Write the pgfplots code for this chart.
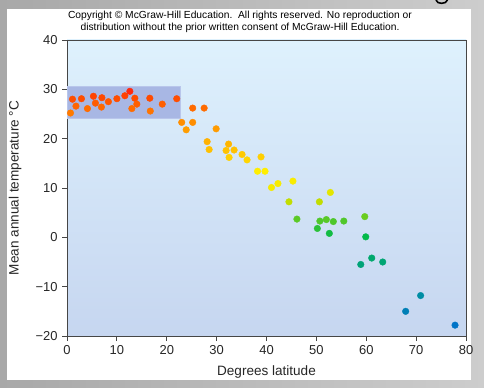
\documentclass[border=0pt]{standalone}
\usepackage{pgfplots}
\pgfplotsset{compat=1.18}
\usepackage{fontspec}
\setmainfont{Liberation Sans}
\definecolor{axcol}{RGB}{70,70,70}
\definecolor{boxcol}{RGB}{168,183,228}
\pgfplotsset{colormap={temp}{
 rgb255(0cm)=(0,115,200);
 rgb255(12cm)=(0,140,165);
 rgb255(26cm)=(0,165,115);
 rgb255(36cm)=(0,185,75);
 rgb255(43cm)=(85,200,40);
 rgb255(50cm)=(190,220,0);
 rgb255(56cm)=(245,235,0);
 rgb255(63cm)=(255,238,0);
 rgb255(68cm)=(255,210,0);
 rgb255(74cm)=(255,180,0);
 rgb255(80cm)=(255,155,0);
 rgb255(86cm)=(255,125,0);
 rgb255(90cm)=(255,95,0);
 rgb255(93cm)=(255,70,0);
 rgb255(96cm)=(255,30,20)}}
\pgfplotstableread{
lat temp
0.7 25.2
1.1 28.0
1.8 26.6
2.9 28.1
4.1 26.1
5.3 28.6
5.7 27.2
7.0 28.3
6.9 26.4
8.3 27.5
10.0 28.1
11.6 28.7
12.6 29.6
13.6 28.2
14.0 27.0
13.0 26.1
16.6 28.2
16.7 25.6
19.1 27.0
22.0 28.1
23.0 23.3
23.9 21.8
25.2 26.2
25.2 23.3
27.5 26.2
29.9 22.0
28.1 19.4
28.5 17.8
32.4 18.9
31.9 17.6
33.5 17.7
32.5 16.2
35.1 16.8
36.1 15.7
38.9 16.3
38.2 13.4
39.7 13.4
41.0 10.1
42.3 10.9
45.3 11.4
52.8 9.1
44.5 7.2
50.6 7.2
46.1 3.7
50.7 3.3
52.0 3.6
53.4 3.2
55.5 3.3
59.7 4.2
50.2 1.8
52.6 0.8
59.9 0.1
61.1 -4.2
63.3 -5.0
58.9 -5.5
70.9 -11.8
67.9 -15.0
77.8 -17.8
}\datatable
\begin{document}
\begin{tikzpicture}[x=1bp,y=1bp]
\useasboundingbox (0,0) rectangle (484,387);
\shade[left color={rgb,255:red,168;green,168;blue,168}, right color={rgb,255:red,205;green,205;blue,205}] (0,0) rectangle (484,387);
\fill[white] (7,7) rectangle (471,378);
\draw[black, line width=1.6pt] (436,387) .. controls (437,382.5) and (446,382.5) .. (447.5,387);
\node[align=center, font=\fontsize{10.3}{12.6}\selectfont] at (240,365) {Copyright © McGraw-Hill Education.\ \ All rights reserved. No reproduction or\\distribution without the prior written consent of McGraw-Hill Education.};
\begin{axis}[
  at={(67bp,51bp)}, anchor=south west,
  scale only axis, width=399bp, height=296bp,
  xmin=0, xmax=80, ymin=-20, ymax=40,
  xtick={0,10,...,80}, ytick={-20,-10,...,40},
  xticklabels={0,10,20,30,40,50,60,70,80},
  yticklabels={−20,−10,0,10,20,30,40},
  tick align=outside, tick pos=left,
  major tick length=5bp,
  axis line style={axcol, line width=0.9pt},
  every tick/.style={axcol, line width=0.8pt},
  tick label style={font=\fontsize{13}{15}\selectfont, text=black!85},
  yticklabel style={xshift=-1bp},
  xticklabel style={yshift=-0.5bp},
  xlabel={Degrees latitude},
  ylabel={Mean annual temperature °C},
  label style={font=\fontsize{13.6}{16}\selectfont, text=black!85},
  xlabel style={at={(axis description cs:0.5,-0.122)}, anchor=center},
  ylabel style={at={(axis description cs:-0.130,0.5)}, anchor=center},
  axis background/.style={shade, top color={rgb,255:red,222;green,241;blue,253}, bottom color={rgb,255:red,198;green,214;blue,240}},
  colormap name=temp, point meta min=-18, point meta max=30,
  clip=false,
]
\addplot[fill=boxcol, draw={rgb,255:red,185;green,198;blue,235}, line width=0.6pt] coordinates {(0,24.2) (22.8,24.2) (22.8,30.6) (0,30.6)} -- cycle;
\addplot[scatter, only marks, mark=*, mark size=3.3bp, point meta=\thisrow{temp},
  scatter/use mapped color={draw=mapped color, fill=mapped color}]
  table[x=lat, y=temp] {\datatable};
\end{axis}
\end{tikzpicture}
\end{document}
